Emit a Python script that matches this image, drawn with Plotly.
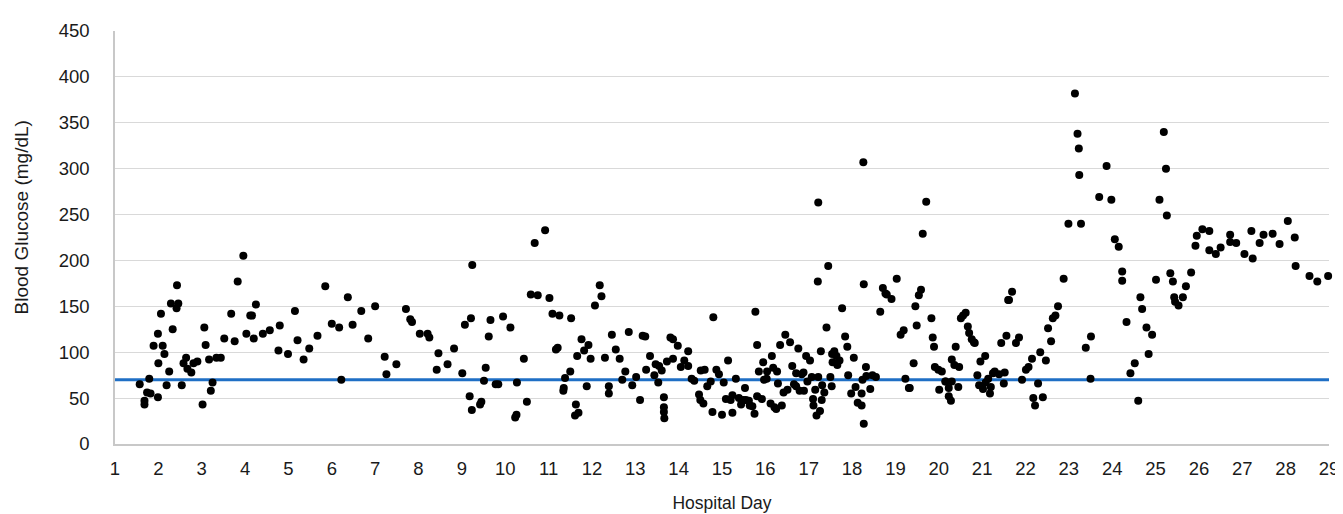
import plotly.graph_objects as go

# Hospital day (x) and blood glucose mg/dL (y)
hospital_day = [
    1.57, 1.68, 1.68, 1.74, 1.82, 1.79, 1.99, 1.89, 2.10, 2.14, 2.00, 1.99, 2.06, 2.25, 2.19, 2.33,
    2.29, 2.46, 2.42, 2.43, 2.54, 2.58, 2.64, 2.67, 2.76, 2.81, 2.90, 3.02, 3.06, 3.09, 3.17, 3.25,
    3.21, 3.34, 3.44, 3.52, 3.68, 3.76, 3.83, 3.96, 4.03, 4.12, 4.16, 4.20, 4.25, 4.41, 4.57, 4.77,
    4.80, 4.99, 5.15, 5.21, 5.35, 5.48, 5.67, 5.85, 6.00, 6.17, 6.22, 6.37, 6.48,
    6.68, 6.84, 7.00, 7.22, 7.26, 7.49, 7.71, 7.81, 7.85, 8.03, 8.21, 8.25, 8.46, 8.42, 8.67, 8.82,
    9.01, 9.07, 9.21, 9.24, 9.18, 9.23, 9.42, 9.45, 9.51, 9.55, 9.62, 9.66, 9.78, 9.84, 9.95, 10.12,
    10.23, 10.26, 10.27, 10.43, 10.50, 10.59, 10.68, 10.75, 10.92, 11.02, 11.09, 11.25, 11.17, 11.21,
    11.52, 11.50, 11.38, 11.34, 11.35, 11.63, 11.61, 11.69, 11.76, 11.66, 11.82, 11.92, 11.97, 11.88,
    12.07,
    12.18, 12.22, 12.30, 12.39, 12.39, 12.46, 12.55, 12.64, 12.70, 12.77, 12.85, 12.93, 13.02, 13.11,
    13.17, 13.23, 13.25, 13.34, 13.44, 13.47, 13.53, 13.55, 13.61, 13.66, 13.66, 13.66, 13.67, 13.73,
    13.81, 13.87, 13.87, 13.98, 14.05, 14.13, 14.22, 14.22, 14.30, 14.36, 14.47, 14.50, 14.57, 14.51,
    14.60, 14.66, 14.74, 14.78, 14.80, 14.87, 14.93, 15.04, 15.00, 15.09, 15.14, 15.20, 15.24, 15.24,
    15.32, 15.39, 15.44, 15.49, 15.53, 15.55, 15.62, 15.64, 15.70, 15.75, 15.77, 15.81, 15.85, 15.81,
    15.92, 15.95, 15.97, 16.03, 16.04, 16.12, 16.15, 16.18, 16.21, 16.25, 16.27, 16.29, 16.34, 16.38,
    16.42, 16.46, 16.51, 16.57, 16.62, 16.66, 16.76, 16.71, 16.71, 16.79, 16.88, 16.84, 16.89, 16.94,
    16.97, 17.03, 17.07, 17.11, 17.10, 17.15, 17.18, 17.21, 17.22, 17.22, 17.26, 17.28, 17.30, 17.31,
    17.36, 17.41, 17.45, 17.50, 17.54, 17.55, 17.53,
    17.59, 17.64, 17.71, 17.66, 17.77, 17.84, 17.89, 17.91, 17.98, 18.04, 18.08, 18.13, 18.22, 18.22,
    18.27, 18.27, 18.26, 18.24, 18.32, 18.33, 18.42, 18.47, 18.55, 18.65, 18.71, 18.77, 18.80, 18.91,
    19.03, 19.12, 19.19, 19.23, 19.31, 19.33, 19.42, 19.46, 19.49, 19.54, 19.59, 19.63, 19.71, 19.83,
    19.86, 19.89, 19.91, 20.01, 19.99, 20.07, 20.15, 20.16, 20.23, 20.23, 20.28, 20.30, 20.30, 20.36,
    20.39, 20.45, 20.47, 20.51, 20.56, 20.62, 20.67, 20.70, 20.76, 20.81, 20.83, 20.89, 20.93, 20.96,
    21.02, 21.07, 21.08, 21.14, 21.18, 21.20, 21.25, 21.29, 21.39, 21.50, 21.52, 21.44, 21.56, 21.60,
    21.62, 21.69, 21.78, 21.85, 21.92, 22.01, 22.07, 22.15, 22.18, 22.22, 22.29, 22.34, 22.40, 22.47,
    22.52, 22.59, 22.63, 22.69, 22.75, 22.88, 22.99,
    23.28, 23.24, 23.87, 23.39, 23.51, 23.50, 23.70, 23.98, 24.06, 24.15, 24.23, 24.23, 24.33, 24.42,
    24.52, 24.60, 24.65, 24.69, 24.79, 24.84, 24.92, 25.01, 25.09, 25.24, 25.26, 25.34, 25.40, 25.43,
    25.45, 25.53, 25.63, 25.70, 25.82, 25.92, 25.95, 26.08, 26.24, 26.24, 26.39, 26.50, 26.72, 26.72,
    26.86, 27.05, 27.21, 27.24, 27.40, 27.49, 27.70, 27.86, 28.05, 28.21, 28.23, 28.55, 28.73, 28.98,
    23.14, 23.20, 23.23, 25.19,
]

blood_glucose = [
    65, 47, 43, 56, 55, 71, 51, 107, 107, 98, 88, 120, 142, 79, 64, 125,
    153, 153, 148, 173, 64, 88, 94, 82, 78, 88, 90, 43, 127, 108, 92, 67,
    58, 94, 94, 115, 142, 112, 177, 205, 120, 140, 140, 115, 152, 120, 124, 102,
    129, 98, 145, 113, 92, 104, 118, 172, 131, 127, 70, 160, 130,
    145, 115, 150, 95, 76, 87, 147, 136, 133, 120, 120, 116, 99, 81, 87, 104,
    77, 130, 137, 195, 52, 37, 43, 46, 69, 83, 117, 135, 65, 65, 139, 127,
    29, 32, 67, 93, 46, 163, 219, 162, 233, 159, 142, 140, 103, 105,
    137, 79, 72, 58, 61, 43, 31, 34, 114, 96, 102, 108, 93, 63,
    151,
    173, 161, 94, 63, 55, 119, 103, 93, 70, 79, 122, 64, 73, 48,
    118, 117, 81, 96, 75, 87, 67, 85, 80, 51, 40, 35, 28, 90,
    116, 114, 93, 107, 84, 91, 101, 85, 71, 69, 54, 48, 44, 80,
    81, 63, 68, 35, 138, 81, 76, 67, 32, 49, 91, 48, 34, 53,
    71, 50, 43, 48, 61, 48, 47, 42, 41, 33, 144, 108, 79, 52,
    49, 89, 70, 71, 79, 44, 96, 83, 40, 38, 79, 66, 108, 42,
    56, 119, 59, 111, 85, 65, 104, 77, 63, 58, 78, 76, 58, 96,
    68, 91, 73, 42, 49, 59, 31, 177, 263, 73, 36, 101, 48, 64,
    56, 127, 194, 73, 98, 89, 63,
    101, 96, 91, 86, 148, 117, 106, 75, 55, 94, 62, 45, 42, 55,
    22, 174, 307, 70, 84, 74, 60, 75, 73, 144, 170, 164, 163, 158,
    180, 119, 124, 71, 61, 61, 88, 150, 129, 162, 168, 229, 264, 137,
    116, 106, 84, 59, 81, 79, 68, 68, 61, 52, 47, 68, 92, 86,
    106, 62, 84, 137, 140, 143, 128, 121, 114, 111, 110, 75, 64, 90,
    60, 96, 67, 71, 55, 62, 77, 79, 76, 66, 78, 110, 118, 157,
    157, 166, 110, 116, 70, 81, 84, 93, 50, 42, 66, 100, 51, 91,
    126, 112, 137, 140, 150, 180, 240,
    240, 293, 303, 105, 117, 71, 269, 266, 223, 215, 188, 178, 133, 77,
    88, 47, 160, 147, 127, 98, 119, 179, 266, 300, 249, 186, 177, 160,
    155, 151, 160, 172, 187, 216, 227, 234, 232, 211, 207, 214, 228, 220,
    219, 207, 232, 202, 219, 228, 229, 218, 243, 225, 194, 183, 177, 183,
    382, 338, 322, 340,
]

x_range = [1, 29]
y_range = [0, 450]
hypo_threshold = 70
x_ticks = list(range(1, 30))
y_ticks = list(range(0, 451, 50))

font_family = "Liberation Sans, Arial, sans-serif"
label_color = "#1a1a1a"

fig = go.Figure()

fig.add_trace(go.Scatter(
    x=x_range, y=[hypo_threshold, hypo_threshold],
    mode="lines", line=dict(color="#1F6FC5", width=3),
    hoverinfo="skip", showlegend=False,
))

fig.add_trace(go.Scatter(
    x=hospital_day, y=blood_glucose, mode="markers",
    marker=dict(color="black", size=8, line=dict(width=0)),
    cliponaxis=False, showlegend=False,
))

fig.update_layout(
    width=1343, height=514,
    margin=dict(l=107, r=14, t=22, b=71),
    paper_bgcolor="white", plot_bgcolor="white",
    font=dict(family=font_family, size=18, color=label_color),
    xaxis=dict(
        range=x_range, tickmode="array", tickvals=x_ticks,
        ticktext=[str(t) for t in x_ticks],
        showgrid=False, zeroline=False,
        showline=True, linecolor="#c8c8c8", linewidth=1.5,
        ticks="", ticklabelstandoff=7,
        tickfont=dict(size=18.5, color=label_color),
        title=dict(text="Hospital Day", font=dict(size=17.5, color=label_color), standoff=19),
    ),
    yaxis=dict(
        range=y_range, tickmode="array", tickvals=y_ticks,
        showgrid=True, gridcolor="#d9d9d9", gridwidth=1.2,
        zeroline=False,
        showline=True, linecolor="#c8c8c8", linewidth=1.5,
        ticks="", ticklabelstandoff=20,
        tickfont=dict(size=18.5, color=label_color),
    ),
    annotations=[dict(
        text="Blood Glucose (mg/dL)", textangle=-90,
        xref="paper", yref="paper", x=-0.077, y=0.5475,
        xanchor="center", yanchor="middle", showarrow=False,
        font=dict(size=19, color=label_color),
    )],
)

fig.write_html("out.html")
